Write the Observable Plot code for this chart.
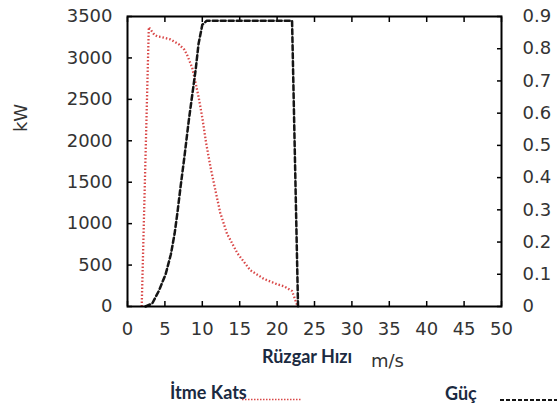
<!DOCTYPE html>
<html>
<head>
<meta charset="utf-8">
<script src="https://cdn.jsdelivr.net/npm/d3@7"></script>
<script src="https://cdn.jsdelivr.net/npm/@observablehq/plot@0.6"></script>
<style>
  html, body { margin: 0; padding: 0; background: #fff; }
  #wrap { position: relative; width: 557px; height: 410px; overflow: hidden; }
  .lbl { position: absolute; white-space: nowrap; line-height: 1; }
  .bold { font-family: Lato, "Open Sans", sans-serif; font-weight: 700; font-size: 18px; color: #1b2a41; }
  .reg { font-family: "DejaVu Sans", sans-serif; font-size: 18px; color: #333; }
</style>
</head>
<body>
<div id="wrap"></div>
<script>
// Power curve (kW) vs wind speed (m/s)
const powerSpeed = [2.4, 3.3, 4.2, 5.1, 5.8, 6.3, 6.7, 7.1, 7.6, 8.2, 8.65, 9.1, 9.5, 10.0, 10.6, 22.0, 22.8];
const powerKW    = [0, 35, 190, 390, 630, 880, 1150, 1450, 1800, 2250, 2550, 2850, 3170, 3400, 3450, 3450, 0];

// Thrust coefficient (right axis) vs wind speed (m/s)
const thrustSpeed = [1.9, 2.85, 3.1, 3.6, 4.0, 4.6, 5.75, 6.9, 7.6, 8.0, 8.65, 9.1, 9.5, 10.0, 10.5, 11.1, 11.8, 12.4, 13.3, 14.7, 16.4, 18.2, 20.0, 21.0, 22.0, 22.7];
const thrustCt    = [0, 0.867, 0.859, 0.843, 0.838, 0.836, 0.829, 0.813, 0.797, 0.779, 0.741, 0.694, 0.651, 0.586, 0.509, 0.432, 0.355, 0.291, 0.226, 0.165, 0.113, 0.086, 0.069, 0.062, 0.048, 0.003];

// Axes
const xTicks  = [0, 5, 10, 15, 20, 25, 30, 35, 40, 45, 50];
const kwTicks = [0, 500, 1000, 1500, 2000, 2500, 3000, 3500];
const ctTicks = [0, 0.1, 0.2, 0.3, 0.4, 0.5, 0.6, 0.7, 0.8, 0.9];
const KW_MAX = 3500, CT_MAX = 0.9;

const toKw = v => v * KW_MAX / CT_MAX;
const fromKw = v => Math.round(v * CT_MAX / KW_MAX * 10) / 10;

const powerData  = powerSpeed.map((s, i) => ({speed: s, value: powerKW[i]}));
const thrustData = thrustSpeed.map((s, i) => ({speed: s, value: toKw(thrustCt[i])}));

const chart = Plot.plot({
  width: 557,
  height: 410,
  marginLeft: 127,
  marginRight: 56,
  marginTop: 16,
  marginBottom: 104,
  style: {fontFamily: "DejaVu Sans", fontSize: "18px", color: "#333", background: "white", overflow: "visible"},
  x: {domain: [0, 50]},
  y: {domain: [0, KW_MAX]},
  marks: [
    Plot.axisX({ticks: xTicks, tickSize: 0, tickPadding: 16, tickFormat: d => String(d), label: null}),
    Plot.axisX({ticks: xTicks, tickSize: -5, text: null, label: null, stroke: "black", strokeWidth: 1.5}),
    Plot.axisX({anchor: "top", ticks: xTicks, tickSize: -5, text: null, label: null, stroke: "black", strokeWidth: 1.5}),
    Plot.axisY({ticks: kwTicks, tickSize: 0, tickPadding: 15, tickFormat: d => String(d), label: null}),
    Plot.axisY({ticks: kwTicks, tickSize: -5, text: null, label: null, stroke: "black", strokeWidth: 1.5}),
    Plot.axisY({anchor: "right", ticks: ctTicks.map(toKw), tickSize: 0, tickPadding: 21, tickFormat: d => String(fromKw(d)), label: null}),
    Plot.axisY({anchor: "right", ticks: ctTicks.map(toKw), tickSize: -5, text: null, label: null, stroke: "black", strokeWidth: 1.5}),
    Plot.line(thrustData, {x: "speed", y: "value", stroke: "#d94848", strokeWidth: 2.3, strokeDasharray: "1.5,2", strokeLinecap: "butt"}),
    Plot.line(powerData, {x: "speed", y: "value", stroke: "#151515", strokeWidth: 2.5, strokeDasharray: "5,3"}),
    Plot.frame({stroke: "black", strokeWidth: 2})
  ]
});

const wrap = document.getElementById("wrap");
wrap.appendChild(chart);

function addLabel(html, cls, left, top, extra) {
  const d = document.createElement("div");
  d.className = "lbl " + cls;
  d.innerHTML = html;
  d.style.left = left + "px";
  d.style.top = top + "px";
  if (extra) Object.assign(d.style, extra);
  wrap.appendChild(d);
  return d;
}

// y-axis title
addLabel("kW", "reg", 7, 109, {transform: "rotate(-90deg)", transformOrigin: "50% 50%"});
// x-axis title
addLabel("Rüzgar Hızı", "bold", 262, 347);
addLabel("m/s", "reg", 371, 352);
// legend
addLabel("İtme Kats", "bold", 170, 383);
addLabel("Güç", "bold", 445, 384);

const ns = "http://www.w3.org/2000/svg";
function swatch(x1, x2, y, color, width, dash) {
  const svg = document.createElementNS(ns, "svg");
  svg.setAttribute("width", 557);
  svg.setAttribute("height", 410);
  svg.style.position = "absolute";
  svg.style.left = "0px";
  svg.style.top = "0px";
  const l = document.createElementNS(ns, "line");
  l.setAttribute("x1", x1); l.setAttribute("x2", x2);
  l.setAttribute("y1", y); l.setAttribute("y2", y);
  l.setAttribute("stroke", color);
  l.setAttribute("stroke-width", width);
  l.setAttribute("stroke-dasharray", dash);
  svg.appendChild(l);
  wrap.appendChild(svg);
}
swatch(242, 302, 399.5, "#d94848", 1.5, "1.5,1.5");
swatch(500, 557, 400, "#151515", 2, "4,2");
</script>
</body>
</html>
